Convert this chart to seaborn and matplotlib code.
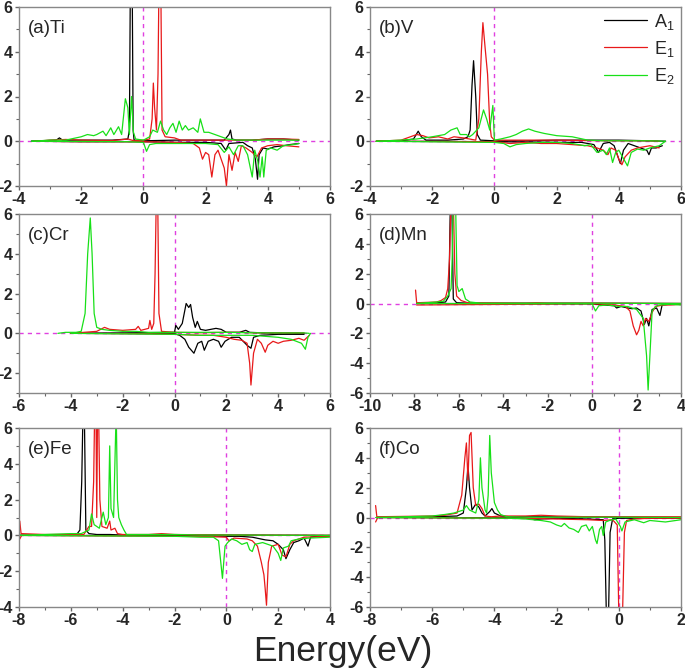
import pandas as pd
import matplotlib.pyplot as plt
import matplotlib.ticker as mticker
import seaborn as sns


# --- Data (energy eV, DOS); spin up > 0, spin down < 0 ---
# (a) Ti
ti_a1_up = [(-3.6, 0.0), (-2.8, 0.05), (-2.7, 0.15), (-2.6, 0.05), (-2.0, 0.05), (-1.0, 0.05), (-0.5, 0.1),
            (-0.45, 0.5), (-0.42, 7.0), (-0.36, 7.0), (-0.33, 0.5), (-0.3, 0.05), (0.0, 0.02), (1.0, 0.05),
            (2.0, 0.05), (2.6, 0.05), (2.75, 0.3), (2.8, 0.5), (2.85, 0.1), (3.0, 0.05), (3.5, 0.05),
            (4.0, 0.1), (4.5, 0.1), (5.0, 0.05)]
ti_a1_dn = [(-3.6, 0.0), (-2.0, -0.02), (0.0, -0.02), (1.0, -0.05), (2.0, -0.05), (2.5, -0.1), (2.65, -0.4),
            (2.75, -0.1), (3.2, -0.05), (3.35, -0.2), (3.5, -0.3), (3.6, -0.8), (3.67, -1.7), (3.72, -0.6),
            (3.85, -0.3), (4.0, -0.35), (4.2, -0.25), (4.5, -0.2), (4.7, -0.15), (5.0, -0.1)]
ti_e1_up = [(-3.5, 0.0), (-3.0, 0.05), (-2.5, 0.08), (-2.0, 0.05), (-1.0, 0.03), (-0.5, 0.1), (-0.3, 0.02),
            (0.0, 0.05), (0.2, 0.1), (0.28, 1.0), (0.32, 2.6), (0.36, 1.5), (0.42, 0.5), (0.47, 3.0),
            (0.5, 7.0), (0.56, 7.0), (0.6, 0.5), (0.7, 0.2), (1.0, 0.15), (1.2, 0.05), (2.0, 0.05),
            (2.5, 0.05), (3.0, 0.05), (3.5, 0.05), (4.0, 0.1), (4.5, 0.1), (5.0, 0.08)]
ti_e1_dn = [(-3.5, 0.0), (-2.0, -0.02), (0.0, -0.02), (1.0, -0.05), (1.6, -0.1), (1.8, -0.3), (1.9, -0.8),
            (2.0, -0.5), (2.1, -0.6), (2.2, -1.6), (2.3, -0.6), (2.4, -0.4), (2.5, -0.8), (2.6, -1.2),
            (2.67, -2.0), (2.75, -0.6), (2.85, -1.3), (2.95, -0.5), (3.05, -0.9), (3.15, -0.2), (3.3, -0.3),
            (3.5, -0.5), (3.65, -0.7), (3.8, -0.3), (4.0, -0.2), (4.3, -0.15), (4.6, -0.2), (5.0, -0.25)]
ti_e2_up = [(-3.6, 0.0), (-3.0, 0.05), (-2.5, 0.05), (-2.0, 0.2), (-1.8, 0.3), (-1.6, 0.25), (-1.5, 0.3),
            (-1.3, 0.45), (-1.2, 0.25), (-1.05, 0.6), (-0.95, 0.3), (-0.8, 0.65), (-0.7, 0.3), (-0.58, 1.9),
            (-0.5, 1.5), (-0.45, 0.3), (-0.38, 2.0), (-0.32, 0.4), (-0.25, 0.1), (0.0, 0.05), (0.2, 0.2),
            (0.3, 0.5), (0.45, 0.4), (0.55, 0.9), (0.65, 0.5), (0.75, 0.3), (0.85, 0.6), (0.95, 0.8),
            (1.05, 0.4), (1.15, 0.9), (1.25, 0.5), (1.35, 0.7), (1.45, 0.5), (1.6, 0.6), (1.75, 0.4),
            (1.83, 1.0), (1.95, 0.4), (2.1, 0.4), (2.3, 0.3), (2.5, 0.2), (2.7, 0.1), (3.0, 0.05),
            (3.5, 0.05), (4.0, 0.05), (4.5, 0.05), (5.0, 0.05)]
ti_e2_dn = [(-3.6, 0.0), (-0.5, -0.02), (0.0, -0.05), (0.1, -0.45), (0.2, -0.15), (0.4, -0.1), (1.0, -0.1),
            (2.0, -0.1), (2.4, -0.15), (2.6, -0.5), (2.75, -0.25), (2.9, -0.6), (3.05, -0.2), (3.2, -0.2),
            (3.35, -0.6), (3.5, -1.6), (3.58, -0.4), (3.68, -0.9), (3.75, -1.6), (3.82, -0.7), (3.87, -1.6),
            (3.95, -0.4), (4.1, -0.3), (4.3, -0.4), (4.5, -0.2), (4.8, -0.15), (5.0, -0.1)]

# (b) V
v_a1_up = [(-3.8, 0.0), (-3.0, 0.02), (-2.6, 0.1), (-2.45, 0.45), (-2.35, 0.2), (-2.2, 0.05), (-1.5, 0.05),
           (-1.0, 0.1), (-0.85, 0.2), (-0.78, 0.5), (-0.72, 2.5), (-0.67, 3.6), (-0.6, 2.0), (-0.55, 0.3),
           (-0.45, 0.05), (0.0, 0.02), (1.0, 0.02), (2.0, 0.05), (3.0, 0.05), (4.0, 0.05), (5.0, 0.02),
           (5.5, 0.0)]
v_a1_dn = [(-3.8, 0.0), (0.0, -0.02), (2.0, -0.05), (2.8, -0.05), (3.2, -0.15), (3.35, -0.5), (3.5, -0.1),
           (3.7, -0.05), (3.85, -0.2), (3.95, -0.6), (4.05, -1.0), (4.15, -0.4), (4.3, -0.1), (4.5, -0.2),
           (4.7, -0.3), (4.9, -0.4), (4.97, -0.6), (5.05, -0.3), (5.2, -0.3), (5.4, -0.2)]
v_e1_up = [(-3.8, 0.0), (-3.0, 0.05), (-2.7, 0.2), (-2.5, 0.3), (-2.3, 0.25), (-2.1, 0.15), (-1.8, 0.2),
           (-1.5, 0.1), (-1.3, 0.2), (-1.0, 0.15), (-0.8, 0.1), (-0.6, 0.05), (-0.5, 1.0), (-0.42, 4.0),
           (-0.37, 5.3), (-0.3, 4.2), (-0.22, 3.0), (-0.15, 0.8), (-0.1, 0.2), (0.0, 0.05), (1.0, 0.05),
           (2.0, 0.05), (3.0, 0.03), (4.0, 0.02), (5.0, 0.02), (5.3, 0.0)]
v_e1_dn = [(-3.8, 0.0), (0.0, -0.02), (0.5, -0.1), (1.0, -0.05), (1.5, -0.1), (2.0, -0.1), (2.5, -0.15),
           (3.0, -0.2), (3.3, -0.3), (3.5, -0.4), (3.65, -0.6), (3.75, -0.3), (3.9, -0.4), (4.0, -0.8),
           (4.1, -1.05), (4.2, -0.7), (4.4, -0.4), (4.6, -0.3), (4.8, -0.25), (5.0, -0.2), (5.3, -0.3)]
v_e2_up = [(-3.8, 0.0), (-3.0, 0.05), (-2.5, 0.1), (-2.0, 0.2), (-1.6, 0.3), (-1.4, 0.5), (-1.2, 0.6),
           (-1.1, 0.3), (-0.9, 0.3), (-0.8, 0.2), (-0.7, 0.3), (-0.5, 0.6), (-0.35, 1.4), (-0.25, 1.0),
           (-0.15, 0.5), (-0.05, 1.6), (0.0, 0.05), (0.2, 0.1), (0.5, 0.2), (0.7, 0.3), (0.9, 0.45),
           (1.1, 0.55), (1.3, 0.45), (1.6, 0.35), (2.0, 0.25), (2.5, 0.2), (3.0, 0.05), (3.5, 0.02),
           (4.0, 0.02), (5.0, 0.02), (5.5, 0.0)]
v_e2_dn = [(-3.8, 0.0), (0.0, -0.05), (0.3, -0.1), (0.5, -0.25), (0.7, -0.15), (1.0, -0.1), (1.5, -0.05),
           (2.0, -0.05), (2.5, -0.1), (2.9, -0.2), (3.1, -0.15), (3.3, -0.5), (3.5, -0.4), (3.6, -0.6),
           (3.7, -0.3), (3.8, -0.95), (3.9, -0.5), (4.0, -0.4), (4.2, -0.9), (4.28, -1.1), (4.4, -0.5),
           (4.6, -0.35), (4.8, -0.4), (5.0, -0.3), (5.3, -0.2), (5.5, 0.0)]

# (c) Cr
cr_a1_up = [(-4.0, 0.0), (-2.0, 0.02), (0.0, 0.05), (0.05, 0.4), (0.15, 0.2), (0.3, 0.5), (0.45, 1.5),
            (0.55, 1.3), (0.62, 1.45), (0.7, 0.8), (0.8, 0.3), (0.88, 0.6), (1.0, 0.2), (1.2, 0.15),
            (1.4, 0.2), (1.6, 0.25), (1.8, 0.2), (2.0, 0.05), (2.5, 0.05), (2.75, 0.15), (2.9, 0.05),
            (3.5, 0.02), (5.0, 0.0)]
cr_a1_dn = [(-4.0, 0.0), (0.0, -0.02), (0.2, -0.1), (0.4, -0.3), (0.55, -0.7), (0.75, -1.0), (0.9, -0.5),
            (1.05, -0.4), (1.15, -0.85), (1.3, -0.4), (1.5, -0.3), (1.7, -0.4), (1.8, -0.7), (1.95, -0.4),
            (2.2, -0.2), (2.5, -0.2), (2.8, -0.6), (2.95, -0.75), (3.05, -0.2), (3.3, -0.1), (4.0, -0.05),
            (5.0, -0.05)]
cr_e1_up = [(-4.0, 0.0), (-3.5, 0.05), (-3.0, 0.1), (-2.7, 0.3), (-2.5, 0.2), (-2.0, 0.15), (-1.5, 0.2),
            (-1.4, 0.35), (-1.3, 0.15), (-1.0, 0.25), (-0.95, 0.65), (-0.88, 0.2), (-0.8, 0.5), (-0.75, 3.0),
            (-0.7, 7.0), (-0.65, 7.0), (-0.6, 1.0), (-0.5, 0.1), (0.0, 0.05), (1.0, 0.03), (2.0, 0.05),
            (2.5, 0.05), (3.0, 0.03), (4.0, 0.02), (5.0, 0.02)]
cr_e1_dn = [(-4.0, 0.0), (-1.0, -0.02), (0.0, -0.05), (1.0, -0.1), (1.5, -0.1), (2.0, -0.2), (2.3, -0.3),
            (2.6, -0.35), (2.8, -0.5), (2.9, -1.5), (2.95, -2.6), (3.05, -1.0), (3.2, -0.3), (3.35, -0.5),
            (3.5, -0.95), (3.6, -0.6), (3.8, -0.4), (4.0, -0.5), (4.2, -0.4), (4.5, -0.35), (4.8, -0.25),
            (5.0, -0.35), (5.2, -0.1)]
cr_e2_up = [(-4.5, 0.0), (-4.2, 0.05), (-3.8, 0.05), (-3.6, 0.1), (-3.45, 1.0), (-3.35, 4.0), (-3.25, 5.8),
            (-3.18, 4.0), (-3.1, 1.0), (-3.0, 0.3), (-2.8, 0.2), (-2.5, 0.15), (-2.0, 0.1), (-1.5, 0.1),
            (-1.0, 0.05), (-0.5, 0.05), (0.0, 0.05), (1.0, 0.05), (2.0, 0.05), (3.0, 0.03), (4.0, 0.02),
            (5.0, 0.02), (5.2, 0.0)]
cr_e2_dn = [(-4.0, 0.0), (0.0, -0.05), (1.0, -0.1), (2.0, -0.1), (3.0, -0.1), (4.0, -0.2), (4.5, -0.3),
            (4.9, -0.5), (5.05, -0.8), (5.15, -0.2), (5.25, 0.0)]

# (d) Mn
mn_a1_up = [(-7.9, 0.0), (-7.0, 0.05), (-6.6, 0.1), (-6.45, 0.5), (-6.38, 7.0), (-6.32, 7.0), (-6.25, 0.3),
            (-6.1, 0.05), (-5.5, 0.02), (0.0, 0.02), (4.0, 0.0)]
mn_a1_dn = [(-7.9, 0.0), (0.0, -0.02), (0.5, -0.1), (1.0, -0.15), (1.1, -0.3), (1.3, -0.2), (1.6, -0.3),
            (1.8, -0.35), (2.0, -0.3), (2.2, -0.5), (2.35, -1.4), (2.45, -1.0), (2.55, -1.5), (2.7, -0.4),
            (2.9, -0.3), (3.05, -0.8), (3.15, -0.1), (3.5, -0.05), (4.0, -0.05)]
mn_e1_up = [(-7.95, 0.9), (-7.9, 0.05), (-7.0, 0.1), (-6.8, 0.2), (-6.6, 0.4), (-6.5, 1.0), (-6.42, 3.0),
            (-6.35, 7.0), (-6.25, 7.0), (-6.18, 2.0), (-6.1, 0.5), (-5.9, 0.2), (-5.6, 0.05), (-3.0, 0.02),
            (-2.5, 0.05), (-2.0, 0.02), (0.0, 0.02), (4.0, 0.0)]
mn_e1_dn = [(-7.9, -0.1), (0.0, -0.02), (0.5, -0.05), (1.0, -0.1), (1.5, -0.2), (1.7, -0.5), (1.85, -1.5),
            (2.0, -2.1), (2.1, -1.8), (2.2, -1.2), (2.3, -1.5), (2.4, -1.0), (2.55, -1.2), (2.7, -0.6),
            (2.85, -0.2), (3.2, -0.1), (3.5, -0.1), (4.0, -0.05)]
mn_e2_up = [(-7.9, 0.0), (-7.0, 0.1), (-6.7, 0.15), (-6.5, 0.5), (-6.35, 1.0), (-6.3, 3.0), (-6.25, 7.0),
            (-6.15, 7.0), (-6.08, 1.2), (-6.0, 0.8), (-5.85, 1.0), (-5.7, 0.3), (-5.5, 0.1), (-5.0, 0.02),
            (0.0, 0.02), (4.0, 0.0)]
mn_e2_dn = [(-7.9, 0.0), (0.0, -0.02), (0.15, -0.5), (0.3, -0.15), (0.7, -0.1), (1.2, -0.2), (1.6, -0.2),
            (2.0, -0.4), (2.3, -1.0), (2.45, -3.5), (2.52, -5.8), (2.6, -3.5), (2.7, -0.5), (2.85, -0.2),
            (3.0, -0.1), (3.5, -0.05), (4.0, -0.1)]

# (e) Fe
fe_a1_up = [(-8.0, 0.0), (-7.0, 0.03), (-6.0, 0.05), (-5.75, 0.1), (-5.65, 0.3), (-5.58, 3.0), (-5.53, 7.0),
            (-5.48, 7.0), (-5.42, 0.3), (-5.3, 0.1), (-5.0, 0.05), (-4.5, 0.05), (-4.0, 0.02), (0.0, 0.02),
            (4.0, 0.0)]
fe_a1_dn = [(-8.0, 0.0), (-1.0, -0.02), (0.0, -0.05), (0.5, -0.05), (1.0, -0.1), (1.5, -0.25), (1.8, -0.3),
            (2.0, -0.5), (2.2, -0.8), (2.3, -1.3), (2.45, -0.8), (2.6, -0.4), (2.8, -0.3), (3.0, -0.15),
            (3.15, -0.6), (3.25, -0.1), (3.5, -0.05), (4.0, -0.05)]
fe_e1_up = [(-7.97, 0.8), (-7.92, 0.1), (-7.0, 0.05), (-6.0, 0.05), (-5.5, 0.05), (-5.3, 0.5), (-5.2, 0.5),
            (-5.12, 3.0), (-5.08, 7.0), (-5.03, 7.0), (-5.0, 1.0), (-4.97, 7.0), (-4.93, 7.0), (-4.88, 2.0),
            (-4.8, 0.5), (-4.6, 0.4), (-4.5, 0.8), (-4.45, 0.3), (-4.3, 0.4), (-4.2, 0.1), (-4.0, 0.05),
            (-3.0, 0.05), (-2.5, 0.1), (-2.0, 0.05), (0.0, 0.02), (4.0, 0.0)]
fe_e1_dn = [(-7.97, -0.2), (-7.9, 0.0), (-1.0, -0.05), (0.0, -0.1), (0.1, -0.3), (0.3, -0.15), (0.8, -0.2),
            (1.0, -0.3), (1.2, -0.6), (1.35, -1.5), (1.45, -2.2), (1.5, -3.0), (1.55, -3.9), (1.62, -1.5),
            (1.75, -0.6), (2.0, -0.5), (2.15, -1.1), (2.3, -1.2), (2.45, -0.5), (2.6, -0.3), (2.8, -0.2),
            (3.0, -0.1), (4.0, -0.05)]
fe_e2_up = [(-8.0, 0.0), (-7.0, 0.05), (-6.0, 0.1), (-5.6, 0.1), (-5.3, 0.3), (-5.2, 1.2), (-5.1, 0.6),
            (-4.9, 0.4), (-4.75, 1.3), (-4.65, 0.6), (-4.55, 1.0), (-4.5, 5.0), (-4.45, 1.5), (-4.35, 1.0),
            (-4.3, 4.0), (-4.25, 7.0), (-4.2, 2.0), (-4.15, 1.0), (-4.05, 0.6), (-3.95, 0.3), (-3.85, 0.05),
            (-3.0, 0.05), (-2.0, 0.05), (-1.0, 0.02), (0.0, 0.02), (4.0, 0.0)]
fe_e2_dn = [(-8.0, 0.0), (-2.0, -0.05), (-1.0, -0.1), (-0.5, -0.1), (-0.3, -0.3), (-0.15, -2.4),
            (-0.05, -0.6), (0.05, -0.4), (0.2, -0.2), (0.4, -0.3), (0.6, -0.5), (0.8, -0.4), (0.9, -0.8),
            (1.0, -0.9), (1.1, -0.5), (1.4, -0.4), (1.6, -0.5), (1.8, -0.6), (2.0, -1.0), (2.1, -1.4),
            (2.2, -0.7), (2.4, -0.6), (2.5, -0.3), (2.8, -0.2), (3.2, -0.15), (4.0, -0.1)]

# (f) Co
co_a1_up = [(-7.8, 0.0), (-6.0, 0.05), (-5.2, 0.1), (-5.0, 0.3), (-4.9, 2.0), (-4.85, 3.5), (-4.8, 2.0),
            (-4.72, 0.5), (-4.6, 0.9), (-4.5, 0.7), (-4.4, 0.3), (-4.3, 0.1), (-4.15, 0.4), (-4.08, 0.6),
            (-4.0, 0.3), (-3.8, 0.1), (-3.5, 0.05), (-2.5, 0.05), (0.0, 0.02), (2.0, 0.0)]
co_a1_dn = [(-7.8, 0.0), (-3.0, -0.02), (-2.7, -0.15), (-2.5, -0.1), (-2.0, -0.05), (-1.0, -0.1),
            (-0.5, -0.15), (-0.45, -1.5), (-0.4, -6.5), (-0.33, -6.5), (-0.28, -1.0), (-0.2, -0.1),
            (0.0, -0.05), (1.0, -0.05), (2.0, -0.05)]
co_e1_up = [(-7.82, 0.8), (-7.78, 0.05), (-6.0, 0.1), (-5.6, 0.15), (-5.2, 0.3), (-5.05, 1.5), (-4.95, 4.0),
            (-4.9, 5.0), (-4.85, 2.5), (-4.8, 5.5), (-4.75, 5.7), (-4.68, 2.0), (-4.6, 0.8), (-4.5, 0.9),
            (-4.4, 0.6), (-4.3, 0.1), (-4.1, 0.05), (-3.8, 0.1), (-3.0, 0.1), (-2.5, 0.15), (-2.0, 0.1),
            (-1.0, 0.05), (0.0, 0.05), (1.0, 0.05), (2.0, 0.05)]
co_e1_dn = [(-7.82, -0.3), (-7.75, 0.0), (-3.0, -0.05), (-2.0, -0.1), (-1.0, -0.15), (-0.5, -0.2),
            (-0.2, -0.15), (-0.05, -0.5), (0.0, -6.5), (0.12, -6.5), (0.18, -1.0), (0.25, -0.2), (0.5, -0.1),
            (1.0, -0.05), (2.0, -0.05)]
co_e2_up = [(-7.8, 0.0), (-6.0, 0.1), (-5.6, 0.2), (-5.3, 0.3), (-5.0, 0.5), (-4.9, 0.8), (-4.8, 0.5),
            (-4.6, 0.3), (-4.5, 1.2), (-4.45, 4.0), (-4.4, 2.0), (-4.3, 0.5), (-4.25, 0.3), (-4.2, 1.5),
            (-4.15, 5.5), (-4.1, 3.0), (-4.0, 1.0), (-3.9, 0.5), (-3.8, 0.2), (-3.6, 0.05), (-3.0, 0.02),
            (-2.0, 0.02), (0.0, 0.02), (2.0, 0.0)]
co_e2_dn = [(-7.8, 0.0), (-3.5, -0.05), (-3.0, -0.1), (-2.5, -0.2), (-2.2, -0.3), (-2.0, -0.5),
            (-1.85, -0.6), (-1.75, -0.4), (-1.6, -0.7), (-1.45, -0.8), (-1.3, -1.0), (-1.2, -0.6),
            (-1.05, -0.5), (-0.95, -0.9), (-0.85, -0.6), (-0.75, -1.5), (-0.7, -1.75), (-0.62, -0.8),
            (-0.55, -0.6), (-0.5, -1.2), (-0.42, -0.3), (-0.3, -0.2), (-0.1, -0.1), (0.05, -0.6),
            (0.1, -0.9), (0.2, -0.3), (0.5, -0.15), (0.8, -0.35), (1.0, -0.2), (1.5, -0.3), (2.0, -0.15)]

orbitals = ["A$_1$", "E$_1$", "E$_2$"]
colors = ["black", "#e8191a", "#18e018"]

panels = [
    ("(a)Ti", (-4, 6), (-2, 6), [(ti_a1_up, ti_a1_dn), (ti_e1_up, ti_e1_dn), (ti_e2_up, ti_e2_dn)]),
    ("(b)V", (-4, 6), (-2, 6), [(v_a1_up, v_a1_dn), (v_e1_up, v_e1_dn), (v_e2_up, v_e2_dn)]),
    ("(c)Cr", (-6, 6), (-3, 6), [(cr_a1_up, cr_a1_dn), (cr_e1_up, cr_e1_dn), (cr_e2_up, cr_e2_dn)]),
    ("(d)Mn", (-10, 4), (-6, 6), [(mn_a1_up, mn_a1_dn), (mn_e1_up, mn_e1_dn), (mn_e2_up, mn_e2_dn)]),
    ("(e)Fe", (-8, 4), (-4, 6), [(fe_a1_up, fe_a1_dn), (fe_e1_up, fe_e1_dn), (fe_e2_up, fe_e2_dn)]),
    ("(f)Co", (-8, 2), (-6, 6), [(co_a1_up, co_a1_dn), (co_e1_up, co_e1_dn), (co_e2_up, co_e2_dn)]),
]


def to_frame(series):
    rows = []
    for orb, (up, dn) in zip(orbitals, series):
        for spin, pts in (("up", up), ("down", dn)):
            for e, d in pts:
                rows.append({"E": e, "dos": d, "orbital": orb, "spin": spin})
    return pd.DataFrame(rows)


# --- Plot styling ---
sns.set_style("ticks")
plt.rcParams["font.family"] = ["Liberation Sans", "DejaVu Sans"]
plt.rcParams["mathtext.fontset"] = "custom"
plt.rcParams["mathtext.rm"] = "Liberation Sans"
plt.rcParams["axes.unicode_minus"] = False

fig = plt.figure(figsize=(6.85, 6.71), dpi=100)

lefts = [19, 370]
tops = [7, 214, 428]
W, H = 685, 671
aw, ah = 311, 179

for i, (label, xlim, ylim, series) in enumerate(panels):
    r, c = divmod(i, 2)
    ax = fig.add_axes([lefts[c] / W, 1 - (tops[r] + ah) / H, aw / W, ah / H])
    df = to_frame(series)

    ax.axhline(0, color="#e040e0", lw=1, ls=(0, (3, 3)), zorder=1)
    ax.axvline(0, color="#e040e0", lw=1, ls=(0, (3, 3)), zorder=1)

    sns.lineplot(data=df, x="E", y="dos", hue="orbital", units="spin", estimator=None,
                 sort=False, palette=dict(zip(orbitals, colors)), linewidth=0.9,
                 legend=(i == 1), ax=ax, zorder=2)

    ax.set_xlim(*xlim)
    ax.set_ylim(*ylim)
    ax.xaxis.set_major_locator(mticker.MultipleLocator(2))
    ax.xaxis.set_minor_locator(mticker.MultipleLocator(1))
    ax.yaxis.set_major_locator(mticker.MultipleLocator(2))
    ax.yaxis.set_minor_locator(mticker.MultipleLocator(1))
    ax.set_xlabel("")
    ax.set_ylabel("")

    for spine in ax.spines.values():
        spine.set_visible(True)
        spine.set_color("#888888")
        spine.set_linewidth(1)

    ax.tick_params(axis="both", which="major", direction="out", length=3, width=1,
                   color="#666666", labelsize=11.5, pad=1.5)
    ax.tick_params(axis="both", which="minor", direction="out", length=2, width=0.8,
                   color="#666666")
    for t in ax.get_xticklabels() + ax.get_yticklabels():
        t.set_fontweight("bold")

    ax.text(0.028, 0.93, label, transform=ax.transAxes, fontsize=13.5, va="top", ha="left")

    if i == 1:
        ax.legend(loc="upper right", bbox_to_anchor=(1.015, 1.035), frameon=False, fontsize=13,
                  handlelength=2.4, handletextpad=0.4, labelspacing=0.4, borderaxespad=0.2)

fig.text(0.5, 10 / H, "Energy(eV)", ha="center", va="baseline", fontsize=25.5)

# --- Render ---
fig.savefig("out.png", dpi=100)
